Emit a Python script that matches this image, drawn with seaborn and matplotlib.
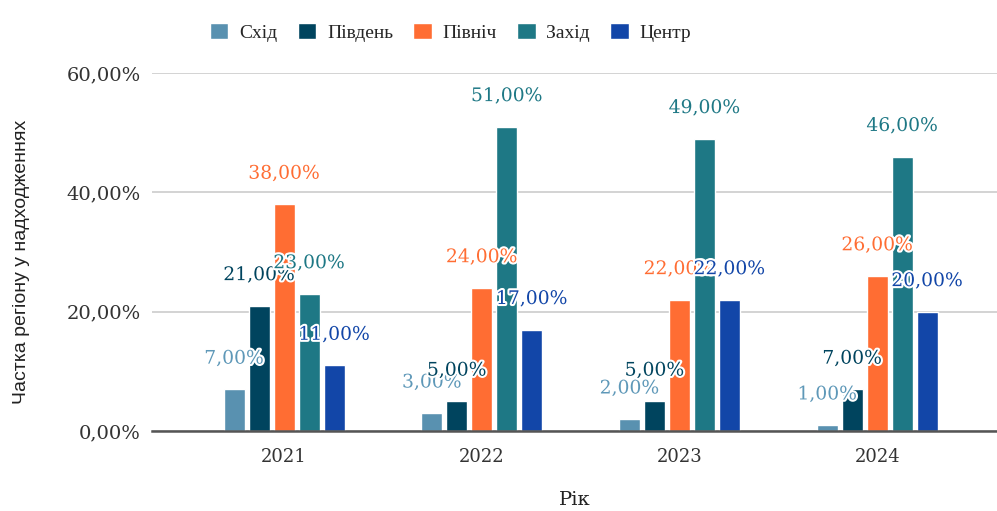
import pandas as pd
import matplotlib
matplotlib.use("Agg")
import matplotlib.pyplot as plt
import matplotlib.patheffects as pe
import seaborn as sns

years = ["2021", "2022", "2023", "2024"]
regions = ["Схід", "Південь", "Північ", "Захід", "Центр"]
east = [7, 3, 2, 1]
south = [21, 5, 5, 7]
north = [38, 24, 22, 26]
west = [23, 51, 49, 46]
center = [11, 17, 22, 20]
colors = ["#5991b0", "#00445e", "#ff6d33", "#1e7885", "#1246a8"]
label_colors = ["#5e98b8", "#00445e", "#ff6d33", "#1e7885", "#1246a8"]

values = [east, south, north, west, center]
rows = []
for reg, vals in zip(regions, values):
    for y, v in zip(years, vals):
        rows.append({"Рік": y, "Регіон": reg, "Частка": v})
df = pd.DataFrame(rows)

sns.set_style("white")
plt.rcParams["font.family"] = ["DejaVu Serif"]

fig = plt.figure(figsize=(9.97, 5.11), dpi=100)
ax = fig.add_axes([0.1525, 0.1566, 0.8475, 0.7006])

sns.barplot(data=df, x="Рік", y="Частка", hue="Регіон", order=years,
            hue_order=regions, palette=colors, width=0.632, gap=0.16,
            saturation=1, ax=ax, legend=True)

ax.set_ylim(0, 60)
ax.set_xlim(-0.668, 3.606)
ax.set_yticks([0, 20, 40, 60])
ax.set_yticklabels(["0,00%", "20,00%", "40,00%", "60,00%"], fontsize=14, color="#333333")
ax.tick_params(axis="x", labelsize=13, colors="#333333", length=0, pad=12)
ax.tick_params(axis="y", length=0, pad=8)
ax.grid(axis="y", color="#cccccc", linewidth=1.2)
ax.set_axisbelow(True)
for s in ["left", "right", "top"]:
    ax.spines[s].set_visible(False)
ax.spines["bottom"].set_color("#555555")
ax.spines["bottom"].set_linewidth(1.8)
ax.spines["bottom"].set_zorder(5)

ax.set_xlabel("Рік", fontsize=14, color="#222222", labelpad=18)
ax.set_ylabel("Частка регіону у надходженнях", fontsize=14, color="#222222",
              family=["Liberation Sans", "DejaVu Sans"])
ax.yaxis.set_label_coords(-0.144, 0.472)

for i, cont in enumerate(ax.containers):
    for bar, v in zip(cont, values[i]):
        bar.set_zorder(3)
        ax.annotate(f"{v},00%", (bar.get_x() + bar.get_width() / 2, bar.get_height()),
                    xytext=(0, 22), textcoords="offset points", ha="center", va="center",
                    fontsize=13.5, color=label_colors[i], zorder=10 + i,
                    path_effects=[pe.withStroke(linewidth=3, foreground="white")])

handles, labels = ax.get_legend_handles_labels()
ax.legend_.remove()
fig.legend(handles, labels, loc="upper center", bbox_to_anchor=(0.452, 0.99), ncol=5,
           frameon=False, handlelength=0.95, handleheight=0.95,
           handletextpad=0.55, columnspacing=1.05,
           prop={"family": ["Liberation Serif", "DejaVu Serif"], "size": 14})

fig.savefig("out.png", dpi=100)
